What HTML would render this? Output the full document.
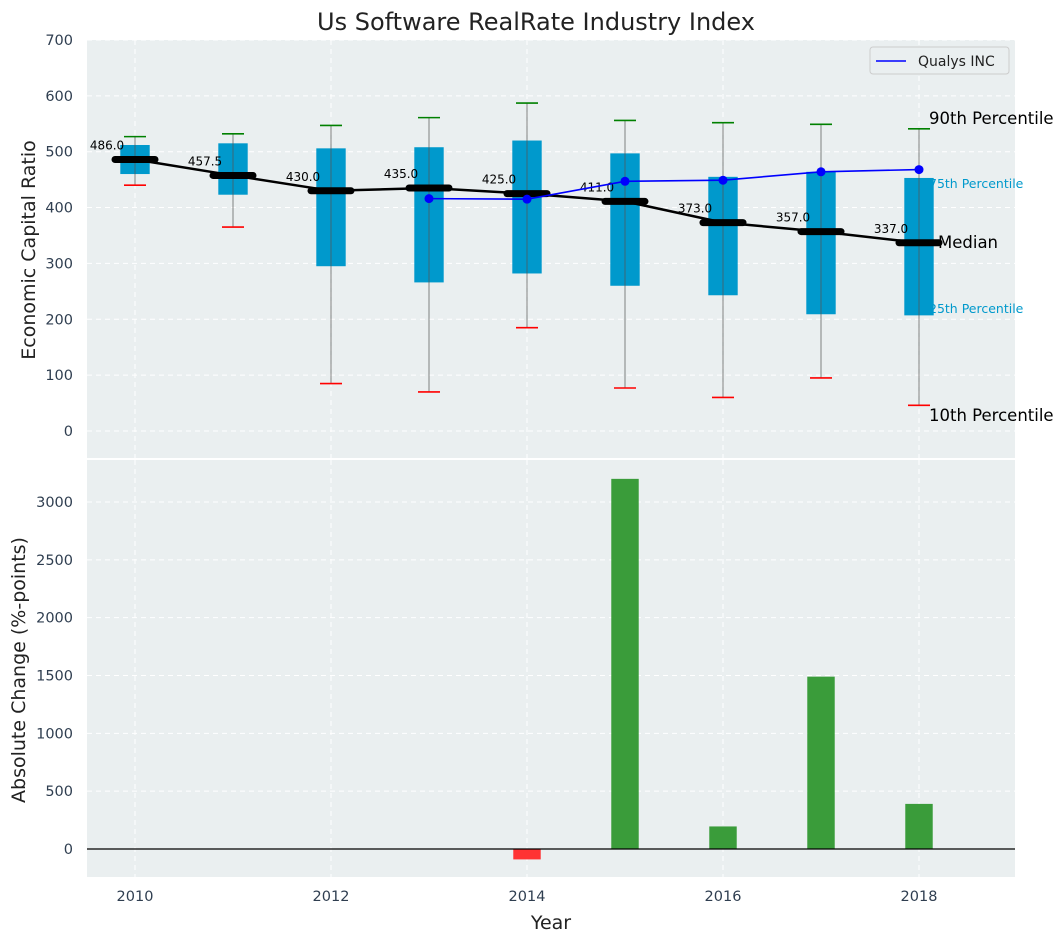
<!DOCTYPE html>
<html><head><meta charset="utf-8"><style>
body{margin:0;background:#fff;font-family:"Liberation Sans","DejaVu Sans",sans-serif}
svg text{font-family:"DejaVu Sans","Liberation Sans",sans-serif}
</style></head><body>
<svg id="c" width="1064" height="942" xmlns="http://www.w3.org/2000/svg"></svg>
<script>
const years=[2010,2011,2012,2013,2014,2015,2016,2017,2018];
const p10=[440,365,85,70,185,77,60,95,46];
const q1=[460,423,295,266,282,260,243,209,207];
const med=[486,457.5,430,435,425,411,373,357,337];
const q3=[512,515,506,508,520,497,455,464,453];
const p90=[527,532,547,561,587,556,552,549,541];
const qYears=[2013,2014,2015,2016,2017,2018];
const qVals=[416,415,447,449,464,468];
const barYears=[2014,2015,2016,2017,2018];
const barVals=[-90,3200,195,1490,390];
const topTicks=[0,100,200,300,400,500,600,700];
const botTicks=[0,500,1000,1500,2000,2500,3000];
const xTicks=[2010,2012,2014,2016,2018];

const NS="http://www.w3.org/2000/svg";
const svg=document.getElementById('c');
function el(t,a,p){const e=document.createElementNS(NS,t);for(const k in a)e.setAttribute(k,a[k]);(p||svg).appendChild(e);return e;}
const L=87,R=1015;
const x=v=>135+(v-2010)*98;
const yT=v=>431-v*0.5586;
const yB=v=>849-v*0.11567;

let t=el('text',{x:536,y:30,'text-anchor':'middle','font-size':24,fill:'#222'});t.textContent='Us Software RealRate Industry Index';


let tp=el('rect',{x:L,y:40,width:R-L,height:418,fill:'#eaeff0'});

let bp=el('rect',{x:L,y:460,width:R-L,height:417,fill:'#eaeff0'});


for(const v of topTicks){el('line',{x1:L,x2:R,y1:yT(v),y2:yT(v),stroke:'#fff','stroke-dasharray':'5,4','stroke-width':1});
 let tx=el('text',{x:73,y:yT(v)+5,'text-anchor':'end','font-size':14.5,fill:'#2f3e50'});tx.textContent=v;
 }
for(const v of botTicks){el('line',{x1:L,x2:R,y1:yB(v),y2:yB(v),stroke:'#fff','stroke-dasharray':'5,4','stroke-width':1});
 let tx=el('text',{x:73,y:yB(v)+5,'text-anchor':'end','font-size':14.5,fill:'#2f3e50'});tx.textContent=v;
 }
for(const v of xTicks){el('line',{x1:x(v),x2:x(v),y1:40,y2:458,stroke:'#fff','stroke-dasharray':'5,4'});
 el('line',{x1:x(v),x2:x(v),y1:460,y2:877,stroke:'#fff','stroke-dasharray':'5,4'});
 let tx=el('text',{x:x(v),y:901,'text-anchor':'middle','font-size':14.5,fill:'#2f3e50'});tx.textContent=v;
 }

const ann=[['90th Percentile',929,124,16.5,'#000'],['75th Percentile',929,188,12.5,'#0099cc'],['25th Percentile',929,313,12.5,'#0099cc'],['10th Percentile',929,421,16.5,'#000']];
for(const a of ann){let tx=el('text',{x:a[1],y:a[2],'font-size':a[3],fill:a[4]});tx.textContent=a[0];
 }

const bw=0.3*98;
years.forEach((yr,i)=>{
 const cx=x(yr);
 let b=el('rect',{x:cx-bw/2,y:yT(q3[i]),width:bw,height:yT(q1[i])-yT(q3[i]),fill:'#0099cc'});
 
 el('line',{x1:cx,x2:cx,y1:yT(p10[i]),y2:yT(p90[i]),stroke:'#555','stroke-opacity':0.6,'stroke-width':1.2});
 let c1=el('line',{x1:cx-11,x2:cx+11,y1:yT(p90[i]),y2:yT(p90[i]),stroke:'green','stroke-width':1.6});
 
 let c2=el('line',{x1:cx-11,x2:cx+11,y1:yT(p10[i]),y2:yT(p10[i]),stroke:'red','stroke-width':1.6});
 
});
let mp=el('polyline',{points:years.map((yr,i)=>x(yr)+','+yT(med[i])).join(' '),fill:'none',stroke:'#000','stroke-width':2.5});

years.forEach((yr,i)=>{
 let m=el('line',{x1:x(yr)-20,x2:x(yr)+20,y1:yT(med[i]),y2:yT(med[i]),stroke:'#000','stroke-width':7,'stroke-linecap':'round'});
 
 let tx=el('text',{x:x(yr)-28,y:yT(med[i])-10,'text-anchor':'middle','font-size':12,fill:'#000'});tx.textContent=med[i].toFixed(1);
 
});
let mt=el('text',{x:938,y:248,'font-size':16.5,fill:'#000'});mt.textContent='Median';


let ql=el('polyline',{points:qYears.map((yr,i)=>x(yr)+','+yT(qVals[i])).join(' '),fill:'none',stroke:'blue','stroke-width':1.6});

qYears.forEach((yr,i)=>{let c=el('circle',{cx:x(yr),cy:yT(qVals[i]),r:4.5,fill:'blue'});
 });

let lg=el('g',{});
el('rect',{x:870,y:47,width:139,height:27,fill:'#eaeff0',stroke:'#ccc',rx:3},lg);
el('line',{x1:876,x2:906,y1:61,y2:61,stroke:'blue','stroke-width':1.6},lg);
let lt=el('text',{x:918,y:66,'font-size':14,fill:'#222'},lg);lt.textContent='Qualys INC';

const barW=0.28*98;
barYears.forEach((yr,i)=>{const v=barVals[i];
 let r=el('rect',{x:x(yr)-barW/2,y:Math.min(yB(v),yB(0)),width:barW,height:Math.abs(yB(v)-yB(0)),fill:v<0?'#ff3333':'#3a9c3a'});
 });
el('line',{x1:L,x2:R,y1:yB(0),y2:yB(0),stroke:'#000','stroke-width':1.2});

let a1=el('text',{x:35,y:250,'text-anchor':'middle','font-size':19,fill:'#222',transform:'rotate(-90 35 250)'});a1.textContent='Economic Capital Ratio';

let a2=el('text',{x:25,y:670,'text-anchor':'middle','font-size':19,fill:'#222',transform:'rotate(-90 25 670)'});a2.textContent='Absolute Change (%-points)';

let a3=el('text',{x:551,y:929,'text-anchor':'middle','font-size':19,fill:'#222'});a3.textContent='Year';

</script>
</body></html>
